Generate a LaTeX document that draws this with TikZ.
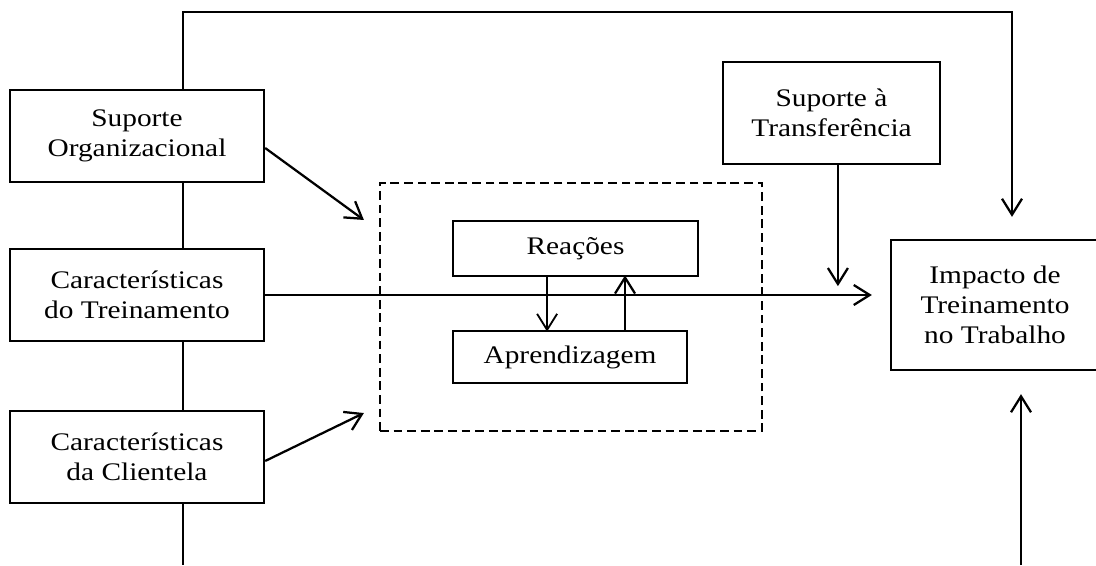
\documentclass[tikz,border=0pt]{standalone}
\usepackage{fontspec}
\setmainfont{Liberation Serif}[FakeStretch=1.16]
\usepackage{tikz}
\usetikzlibrary{positioning}
\usetikzlibrary{arrows.meta}
\tikzset{
  caixa/.style={draw, line width=1.6pt, align=center, inner sep=2pt},
  caixafina/.style={draw, line width=0.8pt, align=center, inner sep=2pt},
  grupo/.style={draw, dashed, dash pattern=on 0.22cm off 0.12cm, line width=1.5pt},
  seta/.style={line width=1.6pt, -{Straight Barb[length=0.4cm, width=0.5cm, line width=1.6pt]}},
  setafina/.style={line width=0.9pt, -{Straight Barb[length=0.4cm, width=0.5cm, line width=1.3pt]}},
  linha/.style={line width=1.6pt}
}

\begin{document}
\begin{tikzpicture}[x=0.025cm, y=-0.025cm, font=\fontsize{18}{21.5}\selectfont]
          \clip (0,0) rectangle (1096,565);
          % caixas da esquerda
          \node[caixa, minimum width=6.35cm, minimum height=2.3cm] (suporg) at (137,136) {Suporte\\Organizacional};
          \node[caixa, minimum width=6.35cm, minimum height=2.3cm] (treino) at (137,295) {Características\\do Treinamento};
          \node[caixa, minimum width=6.35cm, minimum height=2.3cm] (client) at (137,457) {Características\\da Clientela};
          % reações e aprendizagem
          \node[grupo, minimum width=9.55cm, minimum height=6.2cm] (resultados) at (571,307) {};
          \node[caixafina, minimum width=6.125cm, minimum height=1.375cm] (reacoes) at (575.5,248.5) {Reações};
          \node[caixafina, minimum width=5.85cm, minimum height=1.3cm] (aprend) at (570,357) {Aprendizagem};
          % caixas da direita
          \node[caixa, minimum width=5.425cm, minimum height=2.55cm] (transf) at (831.5,113) {Suporte à\\Transferência};
          \node[caixa, minimum width=5.2cm, minimum height=3.25cm] (impacto) at (995,305) {Impacto de\\Treinamento\\no Trabalho};
          \coordinate (cantoE) at (183,12);
          \coordinate (cantoD) at (1012,12);
          \coordinate (fundoE) at (183,565);
          \coordinate (fundoD) at (1021,565);
          % ligações
          \draw[seta, shorten >=0.55cm] (suporg.north -| cantoE) -- (cantoE) -- (cantoD) -- (cantoD |- impacto.north);
          \draw[linha] (suporg.south -| cantoE) -- (treino.north -| cantoE);
          \draw[linha] (treino.south -| cantoE) -- (client.north -| cantoE);
          \draw[linha] (client.south -| cantoE) -- (fundoE);
          \draw[seta] ([yshift=-0.3cm]suporg.east) -- ([xshift=-0.375cm, yshift=2.175cm]resultados.west);
          \draw[seta] ([yshift=-0.1cm]client.east) -- ([xshift=-0.375cm, yshift=-2.65cm]resultados.west);
          \draw[seta, shorten >=0.45cm] (treino.east) -- (treino.east -| impacto.west);
          \draw[seta] ([xshift=0.16cm]transf.south) -- ++(0,121);
          \draw[seta, shorten >=0.575cm] (fundoD) -- (fundoD |- impacto.south);
          \draw[setafina] ([xshift=-0.71cm]reacoes.south) -- ++(0,55);
          \draw[seta] ([xshift=1.375cm]aprend.north) -- ++(0,-55);
        \end{tikzpicture}
\end{document}
